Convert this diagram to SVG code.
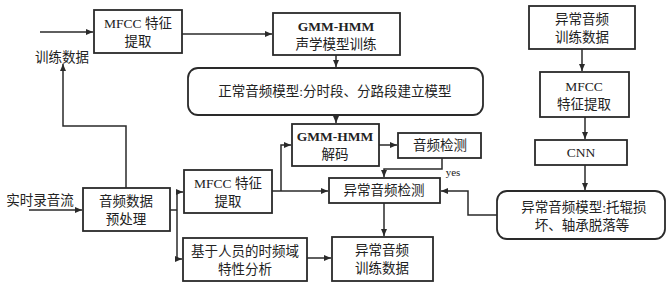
<svg xmlns="http://www.w3.org/2000/svg" width="671" height="287" viewBox="0 0 671 287">
<style>
.box{fill:#fff;stroke:#2a2a2a;stroke-width:1.8}
.ln{fill:none;stroke:#2a2a2a;stroke-width:1.5}
text{font-family:"Liberation Serif","Noto Sans CJK SC",serif;font-size:13.5px;fill:#222;text-anchor:middle}
.b{font-weight:bold}
.l{text-anchor:start}
</style>
<defs>
<marker id="a" markerUnits="userSpaceOnUse" markerWidth="8" markerHeight="7" refX="7" refY="3.5" orient="auto">
<path d="M0,0.5 L7,3.5 L0,6.5 Z" fill="#2a2a2a"/>
</marker>
</defs>
<g id="connectors">
<path class="ln" d="M40,32 H93" marker-end="url(#a)"/>
<path class="ln" d="M126,188 V126 H63 V64" marker-end="url(#a)"/>
<path class="ln" d="M182,34 H272" marker-end="url(#a)"/>
<path class="ln" d="M336,55 V67" marker-end="url(#a)"/>
<path class="ln" d="M336,115 V123" marker-end="url(#a)"/>
<path class="ln" d="M379,145 H397" marker-end="url(#a)"/>
<path class="ln" d="M442,158 V169 H384 V177" marker-end="url(#a)"/>
<path class="ln" d="M272,191 H328" marker-end="url(#a)"/>
<path class="ln" d="M281,191 V145 H291" marker-end="url(#a)"/>
<path class="ln" d="M384,203 V236" marker-end="url(#a)"/>
<path class="ln" d="M307,258 H331" marker-end="url(#a)"/>
<path class="ln" d="M29,210 H82" marker-end="url(#a)"/>
<path class="ln" d="M170,210 H177"/>
<path class="ln" d="M177,192 V259"/>
<path class="ln" d="M177,192 H183" marker-end="url(#a)"/>
<path class="ln" d="M177,259 H182" marker-end="url(#a)"/>
<path class="ln" d="M582,49 V71" marker-end="url(#a)"/>
<path class="ln" d="M585,117 V139" marker-end="url(#a)"/>
<path class="ln" d="M585,165 V190" marker-end="url(#a)"/>
<path class="ln" d="M497,215 H468 V191 H441" marker-end="url(#a)"/>
</g>
<g id="n_train_label"><text x="62" y="62">训练数据</text></g>
<g id="n_realtime_label"><text x="40" y="205">实时录音流</text></g>
<g id="n_yes"><text x="453" y="176" style="font-size:11px">yes</text></g>
<g id="n_mfcc1"><rect class="box" x="94" y="10" width="88" height="43"/><text x="138" y="28">MFCC 特征</text><text x="138" y="46">提取</text></g>
<g id="n_gmm_train"><rect class="box" x="273" y="13" width="127" height="42"/><text class="b" x="336" y="31">GMM-HMM</text><text x="336" y="49">声学模型训练</text></g>
<g id="n_normal_model"><rect class="box" x="188" y="68" width="295" height="47" rx="10"/><text x="335" y="96">正常音频模型:分时段、分路段建立模型</text></g>
<g id="n_gmm_decode"><rect class="box" x="292" y="124" width="87" height="42"/><text class="b" x="335" y="141">GMM-HMM</text><text x="335" y="159">解码</text></g>
<g id="n_audio_detect"><rect class="box" x="398" y="133" width="83" height="25"/><text x="440" y="150">音频检测</text></g>
<g id="n_abnormal_detect"><rect class="box" x="329" y="178" width="111" height="25"/><text x="384" y="195">异常音频检测</text></g>
<g id="n_abnormal_data_bottom"><rect class="box" x="332" y="237" width="101" height="44"/><text x="382" y="255">异常音频</text><text x="382" y="273">训练数据</text></g>
<g id="n_person"><rect class="box" x="183" y="238" width="124" height="43"/><text x="245" y="256">基于人员的时频域</text><text x="245" y="274">特性分析</text></g>
<g id="n_preprocess"><rect class="box" x="83" y="188" width="87" height="43"/><text x="126" y="206">音频数据</text><text x="126" y="224">预处理</text></g>
<g id="n_mfcc2"><rect class="box" x="184" y="170" width="88" height="43"/><text x="228" y="188">MFCC 特征</text><text x="228" y="206">提取</text></g>
<g id="n_abnormal_data_top"><rect class="box" x="529" y="6" width="106" height="43"/><text x="582" y="24">异常音频</text><text x="582" y="42">训练数据</text></g>
<g id="n_mfcc3"><rect class="box" x="540" y="72" width="89" height="45"/><text x="584" y="91">MFCC</text><text x="584" y="109">特征提取</text></g>
<g id="n_cnn"><rect class="box" x="535" y="140" width="92" height="25"/><text x="581" y="157">CNN</text></g>
<g id="n_abnormal_model"><rect class="box" x="497" y="191" width="168" height="48" rx="10"/><text x="584" y="212">异常音频模型:托辊损</text><text x="582" y="230">坏、轴承脱落等</text></g>
</svg>
